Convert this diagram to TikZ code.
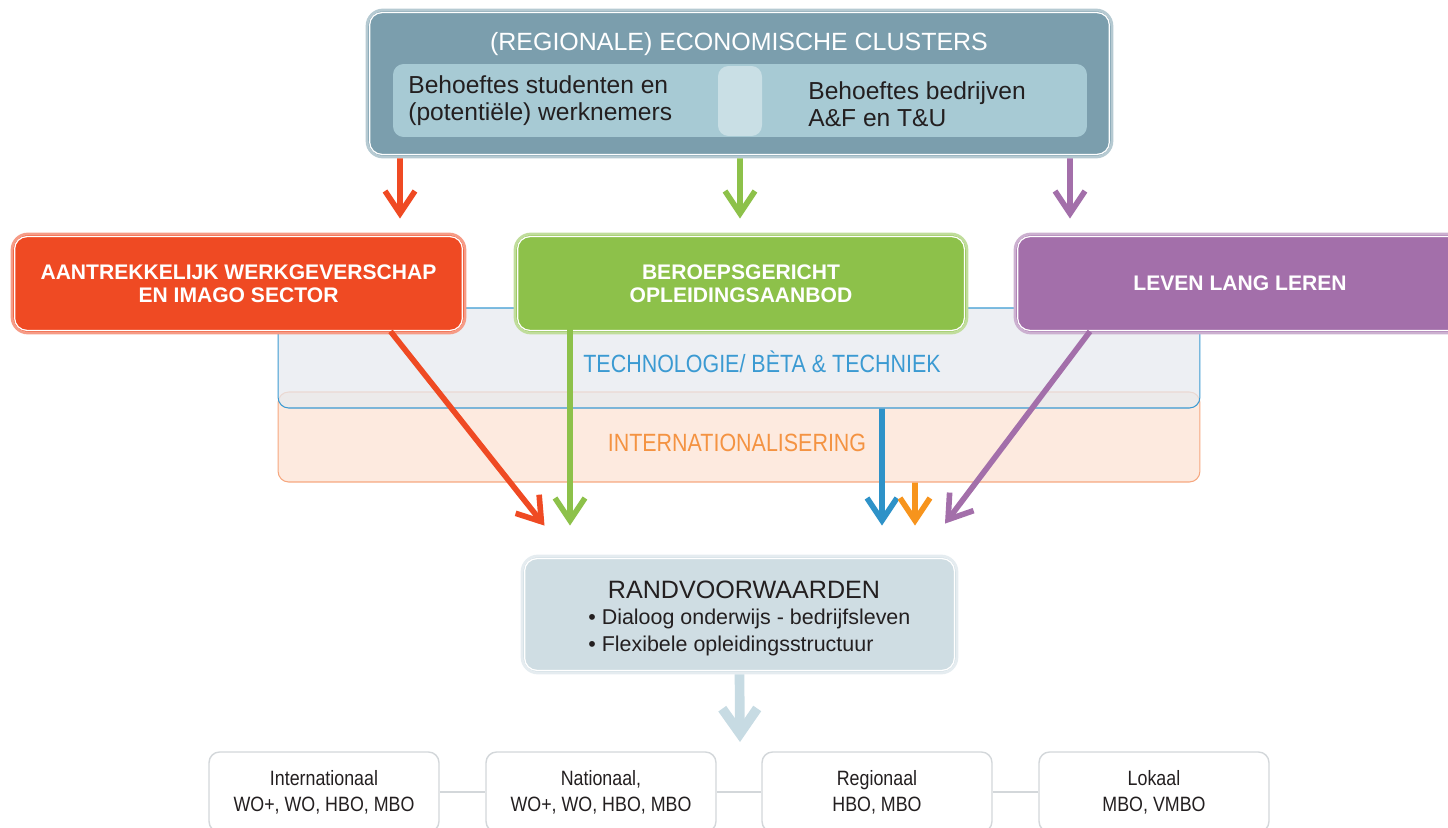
\documentclass[tikz,border=0pt]{standalone}
\usepackage{fontspec}
\setmainfont{Liberation Sans}
\newfontfamily\narrowfont[FakeStretch=0.86]{Liberation Sans}
\usetikzlibrary{calc,positioning,arrows.meta}

\definecolor{clusterblue}{HTML}{7B9EAD}
\definecolor{needsblue}{HTML}{A7CAD4}
\definecolor{needslight}{HTML}{C9DFE5}
\definecolor{aantorange}{HTML}{EF4A23}
\definecolor{beroepsgreen}{HTML}{8DC14A}
\definecolor{levenpurple}{HTML}{A36FAA}
\definecolor{techblue}{HTML}{3B9AD2}
\definecolor{techfill}{HTML}{E7EAEF}
\definecolor{intlorange}{HTML}{F6A77F}
\definecolor{intltext}{HTML}{F49342}
\definecolor{intlfill}{HTML}{FDEADF}
\definecolor{arrowblue}{HTML}{2E92C8}
\definecolor{arroworange}{HTML}{F7941D}
\definecolor{randfill}{HTML}{CFDDE3}
\definecolor{downblue}{HTML}{C7DBE3}
\definecolor{framegray}{HTML}{D3D7DA}
\definecolor{darktext}{HTML}{231F20}

\def\whiteedge#1{\draw[white, line width=0.7pt, rounded corners=7pt] ($(#1.south west)+(4,-4)$) rectangle ($(#1.north east)+(-4,4)$);}

\tikzset{
  panel/.style={rounded corners=9pt, fill=#1, draw=#1!55, line width=1.6pt, inner sep=0pt},
  head/.style={text=white, font=\bfseries\fontsize{12}{13}\selectfont, align=center},
  needstext/.style={font=\fontsize{14}{15.3}\selectfont, text=darktext, align=left, inner sep=0pt},
  arr/.style={line width=3.2pt, -{Straight Barb[length=4.5mm,width=6mm]}},
  band/.style={rounded corners=6pt, line width=0.6pt, minimum width=18.44cm, inner sep=0pt},
  bandtext/.style={font=\narrowfont\fontsize{14.2}{16}\selectfont},
  level/.style={rounded corners=6pt, draw=framegray, fill=white, line width=0.8pt, minimum width=4.6cm, minimum height=1.6cm, align=center, inner sep=0pt, text=darktext, font=\narrowfont\fontsize{11.8}{14.7}\selectfont},
}

\begin{document}
\begin{tikzpicture}[x=0.02cm, y=-0.02cm]
  \clip (0,0) rectangle (1448,828);

  % bands
  \node[band, draw=intlorange, fill=intlfill, minimum height=1.8cm] (intl) at (739,437) {};
  \node[band, draw=techblue, fill=techfill, fill opacity=0.75, minimum height=2cm] (tech) at (739,358) {};
  \node[bandtext, text=techblue] (techlabel) at (762,362) {TECHNOLOGIE/ BÈTA \& TECHNIEK};
  \node[bandtext, text=intltext] (intllabel) at (737,443) {INTERNATIONALISERING};

  % clusters
  \node[panel=clusterblue, minimum width=14.9cm, minimum height=2.94cm] (clusters) at (739.5,83.5) {};
  \whiteedge{clusters}
  \node[text=white, font=\fontsize{14.2}{16}\selectfont] (clustertitle) at (739,44) {(REGIONALE) ECONOMISCHE CLUSTERS};
  \node[rounded corners=6pt, fill=needsblue, minimum width=13.88cm, minimum height=1.46cm] (needs) at (740,100.5) {};
  \node[rounded corners=6pt, fill=needslight, minimum width=0.88cm, minimum height=1.4cm] (needsmid) at (740,101) {};
  \node[needstext, anchor=west] (students) at (408,100.5) {Behoeftes studenten en\\(potentiële) werknemers};
  \node[needstext, anchor=west] (companies) at (808,104.5) {Behoeftes bedrijven\\A\&F en T\&U};

  % themes
  \node[panel=aantorange, head, minimum width=9.06cm, minimum height=1.98cm] (aant) at (238.5,283.5) {AANTREKKELIJK WERKGEVERSCHAP\\EN IMAGO SECTOR};
  \whiteedge{aant}
  \node[panel=beroepsgreen, head, minimum width=9.04cm, minimum height=1.98cm] (beroeps) at (741,283.5) {BEROEPSGERICHT\\OPLEIDINGSAANBOD};
  \whiteedge{beroeps}
  \node[panel=levenpurple, head, minimum width=9cm, minimum height=1.98cm] (leven) at (1240,283.5) {LEVEN LANG LEREN};
  \whiteedge{leven}

  % randvoorwaarden
  \node[panel=randfill, minimum width=8.7cm, minimum height=2.34cm] (rand) at (739.5,614.5) {};
  \whiteedge{rand}
  \node[text=darktext, font=\fontsize{14.3}{16}\selectfont] (randtitle) at (744,590) {RANDVOORWAARDEN};
  \node[anchor=north west, align=left, inner sep=0pt, text=darktext, font=\fontsize{12.2}{15.3}\selectfont] (randlist) at (588,609) {\textbullet\ Dialoog onderwijs - bedrijfsleven\\\textbullet\ Flexibele opleidingsstructuur};

  % arrows
  \draw[arr, aantorange] ($(clusters.south)+(-339.5,0)$) -- ($(aant.north)+(161.5,-14)$);
  \draw[arr, beroepsgreen] ($(clusters.south)+(0.5,0)$) -- ($(beroeps.north)+(-1,-14)$);
  \draw[arr, levenpurple] ($(clusters.south)+(330.5,0)$) -- ($(leven.north)+(-170,-14)$);

  \draw[arr, aantorange] ($(aant.south)+(152,-3)$) -- ($(rand.north)+(-195,-29)$);
  \draw[arr, beroepsgreen] ($(beroeps.south)+(-171,-8)$) -- ($(rand.north)+(-169.5,-29)$);
  \draw[arr, arrowblue] ($(tech.south)+(143,0)$) -- ($(rand.north)+(142.5,-29)$);
  \draw[arr, arroworange] ($(intl.south)+(176,0)$) -- ($(rand.north)+(175.5,-29)$);
  \draw[arr, levenpurple] ($(leven.south)+(-150,-3)$) -- ($(rand.north)+(205.5,-31)$);

  \coordinate (levels) at (740,742);
  \draw[downblue, line width=5.5pt, -{Straight Barb[length=5mm,width=7mm]}] (rand.south) -- (levels);

  % levels
  \node[level] (intern) at (324,792) {Internationaal\\WO+, WO, HBO, MBO};
  \node[level] (nation) at (601,792) {Nationaal,\\WO+, WO, HBO, MBO};
  \node[level] (region) at (877,792) {Regionaal\\HBO, MBO};
  \node[level] (local) at (1154,792) {Lokaal\\MBO, VMBO};
  \draw[framegray, line width=1pt] (intern) -- (nation);
  \draw[framegray, line width=1pt] (nation) -- (region);
  \draw[framegray, line width=1pt] (region) -- (local);
\end{tikzpicture}
\end{document}
